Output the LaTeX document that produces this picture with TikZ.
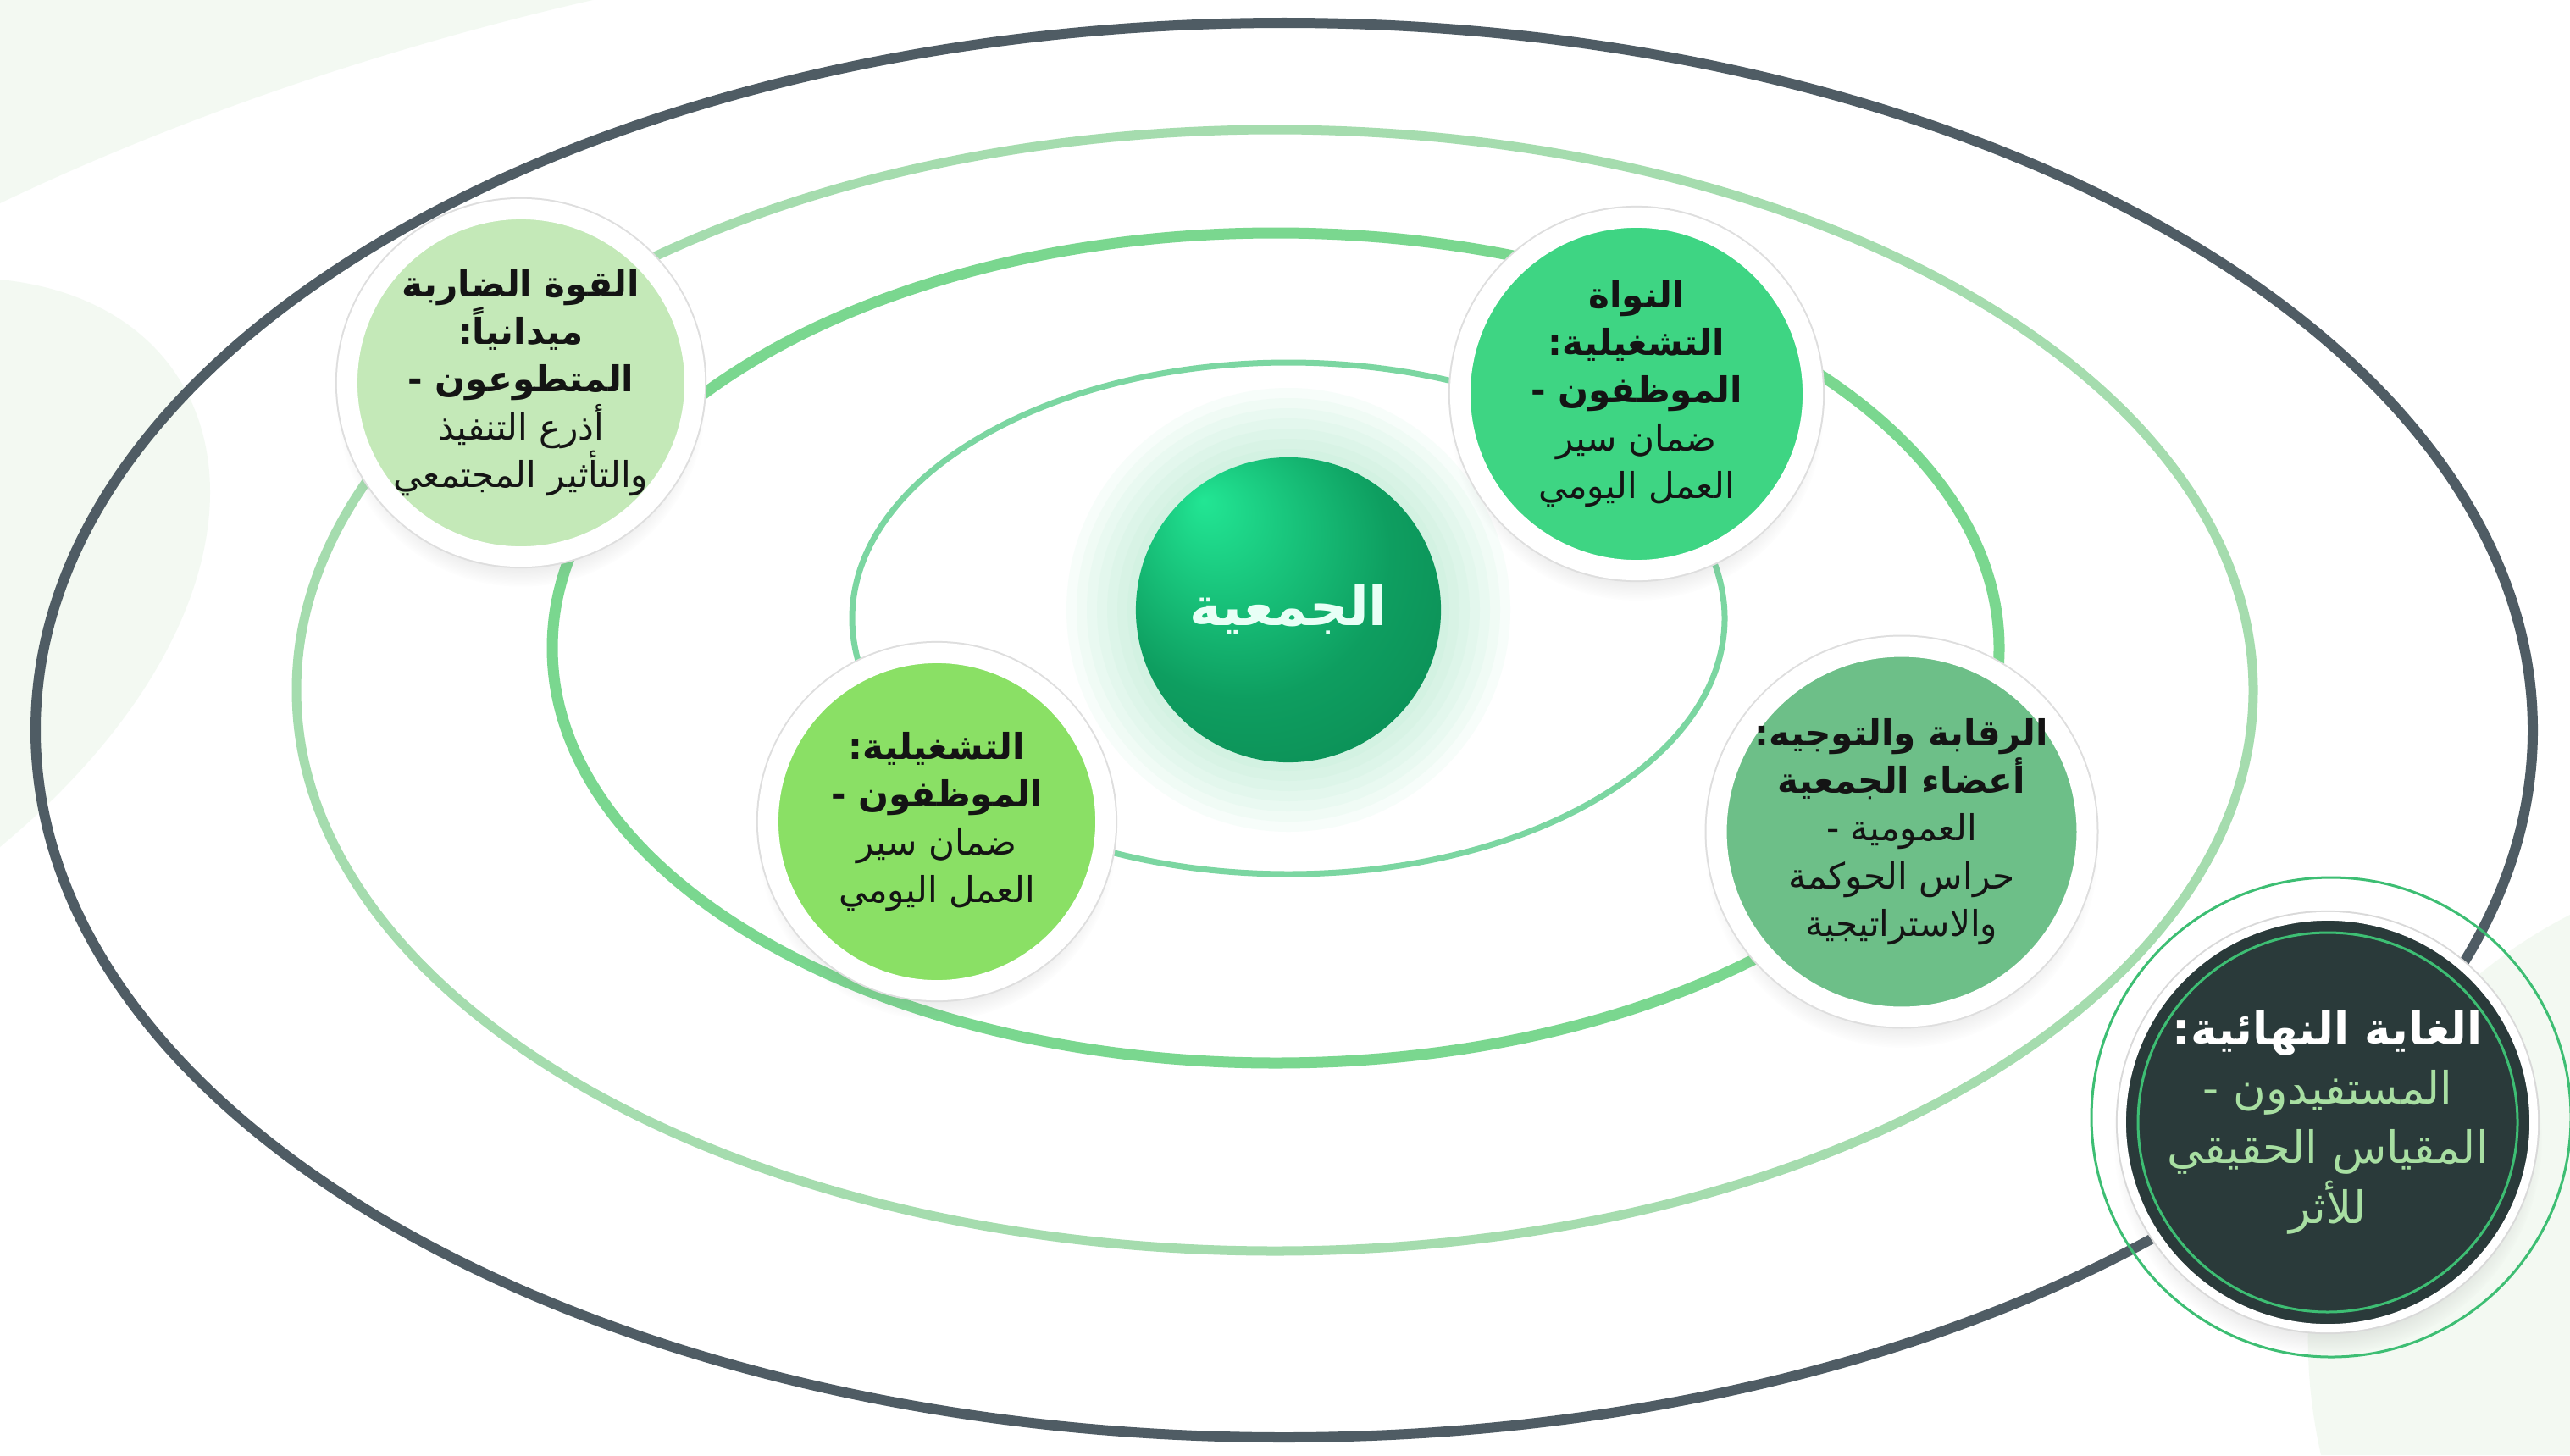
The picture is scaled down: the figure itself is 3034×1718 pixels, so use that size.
\documentclass[tikz,border=0pt]{standalone}
\usepackage{fontspec}
\newfontfamily\arabicfont[Script=Arabic]{DejaVu Sans}
\TeXXeTstate=1
\usetikzlibrary{shadows}

\definecolor{leafgreen}{HTML}{E6F3E4}
\definecolor{ringone}{HTML}{7BD6A1}
\definecolor{ringtwo}{HTML}{7AD78F}
\definecolor{ringthree}{HTML}{A5DCAE}
\definecolor{ringfour}{HTML}{4F5C64}
\definecolor{leadfill}{HTML}{C4E9B8}
\definecolor{corefill}{HTML}{3ED583}
\definecolor{stafffill}{HTML}{8AE065}
\definecolor{boardfill}{HTML}{6DBF88}
\definecolor{goalfill}{HTML}{2A3A3A}
\definecolor{goaltext}{HTML}{A8DFA2}
\definecolor{goalring}{HTML}{3DBE73}
\definecolor{hubhi}{HTML}{22E694}
\definecolor{hubmid}{HTML}{0E9E60}
\definecolor{hubdark}{HTML}{0A844F}
\definecolor{hubglow}{HTML}{9FE8C2}
\definecolor{hubtext}{HTML}{E8FFF6}

\pgfdeclareradialshading{hubshade}{\pgfpoint{-14bp}{18bp}}{color(0bp)=(hubhi); color(24bp)=(hubmid); color(44bp)=(hubdark); color(50bp)=(hubmid)}

\newcommand{\bline}[1]{\textbf{\beginR#1\endR}}
\newcommand{\nline}[1]{\beginR#1\endR}

\tikzset{
  member/.style={circle, fill=#1, draw=white, line width=0.24cm, inner sep=0pt, align=center,
    minimum size=4.16cm, text=black!92, font=\arabicfont\fontsize{12}{16}\selectfont,
    circular drop shadow={shadow xshift=0cm, shadow yshift=-0.22cm, opacity=0.2, shadow scale=1.06},
    preaction={draw=black!13, line width=0.28cm}},
  goaldisc/.style={circle, fill=goalfill, draw=white, line width=0.1cm, inner sep=0pt, align=center,
    minimum size=4.86cm, font=\arabicfont\fontsize{15}{20}\selectfont,
    circular drop shadow={shadow xshift=0cm, shadow yshift=-0.2cm, opacity=0.25, shadow scale=1.04},
    preaction={draw=black!15, line width=0.14cm}},
  hubball/.style={circle, shading=hubshade, inner sep=0pt, minimum size=3.6cm,
    text=hubtext, font=\arabicfont\bfseries\fontsize{18}{22}\selectfont},
  orbit/.style={line width=#1},
  leaf/.style={fill=leafgreen, opacity=0.45},
  thinring/.style={draw=goalring, line width=0.03cm}
}

\begin{document}
\begin{tikzpicture}[x=0.01cm, y=-0.01cm]
\useasboundingbox (0,0) rectangle (3034,1718);
\fill[white] (0,0) rectangle (3034,1718);
% faint background leaves
\fill[leaf] (0,0) -- (700,0) .. controls (480,50) and (230,130) .. (0,240) -- cycle;
\fill[leaf] (0,330) .. controls (300,360) and (360,700) .. (0,1000) -- cycle;
\fill[leaf] (3034,1080) .. controls (2800,1200) and (2680,1450) .. (2740,1718) -- (3034,1718) -- cycle;

% orbits
\draw[orbit=0.12cm, draw=ringfour] (1516,862) ellipse[x radius=1474, y radius=835];
\draw[orbit=0.11cm, draw=ringthree] (1505,815) ellipse[x radius=1155, y radius=662];
\draw[orbit=0.13cm, draw=ringtwo] (1506,765) ellipse[x radius=854, y radius=490];
\draw[orbit=0.07cm, draw=ringone] (1521,730) ellipse[x radius=515, y radius=302];

% glow round the centre
\coordinate (hubc) at (1521,720);
\foreach \r in {262,250,...,190}
  \fill[hubglow, opacity=0.08] (hubc) circle[radius=\r];

\node[hubball] (hub) at (hubc) {\beginR الجمعية\endR};

\node[member=leadfill, minimum size=4.1cm] (lead) at (615,452)
  {\bline{القوة الضاربة}\\\bline{ميدانياً:}\\\bline{المتطوعون -}\\\nline{أذرع التنفيذ}\\\nline{والتأثير المجتمعي}};
\node[member=corefill] (core) at (1932,465)
  {\bline{النواة}\\\bline{التشغيلية:}\\\bline{الموظفون -}\\\nline{ضمان سير}\\\nline{العمل اليومي}};
\node[member=stafffill, minimum size=3.98cm] (staff) at (1106,970)
  {\bline{التشغيلية:}\\\bline{الموظفون -}\\\nline{ضمان سير}\\\nline{العمل اليومي}};
\node[member=boardfill] (board) at (2245,982)
  {\bline{الرقابة والتوجيه:}\\\bline{أعضاء الجمعية}\\\nline{العمومية -}\\\nline{حراس الحوكمة}\\\nline{والاستراتيجية}};

\node[goaldisc] (goal) at (2748,1325)
  {\textcolor{white}{\bline{الغاية النهائية:}}\\\textcolor{goaltext}{\nline{المستفيدون -}}\\\textcolor{goaltext}{\nline{المقياس الحقيقي}}\\\textcolor{goaltext}{\nline{للأثر}}};
\draw[thinring] (goal) circle[radius=224];
\draw[thinring] ([shift={(4,-6)}]goal.center) circle[radius=283];
\end{tikzpicture}
\end{document}
